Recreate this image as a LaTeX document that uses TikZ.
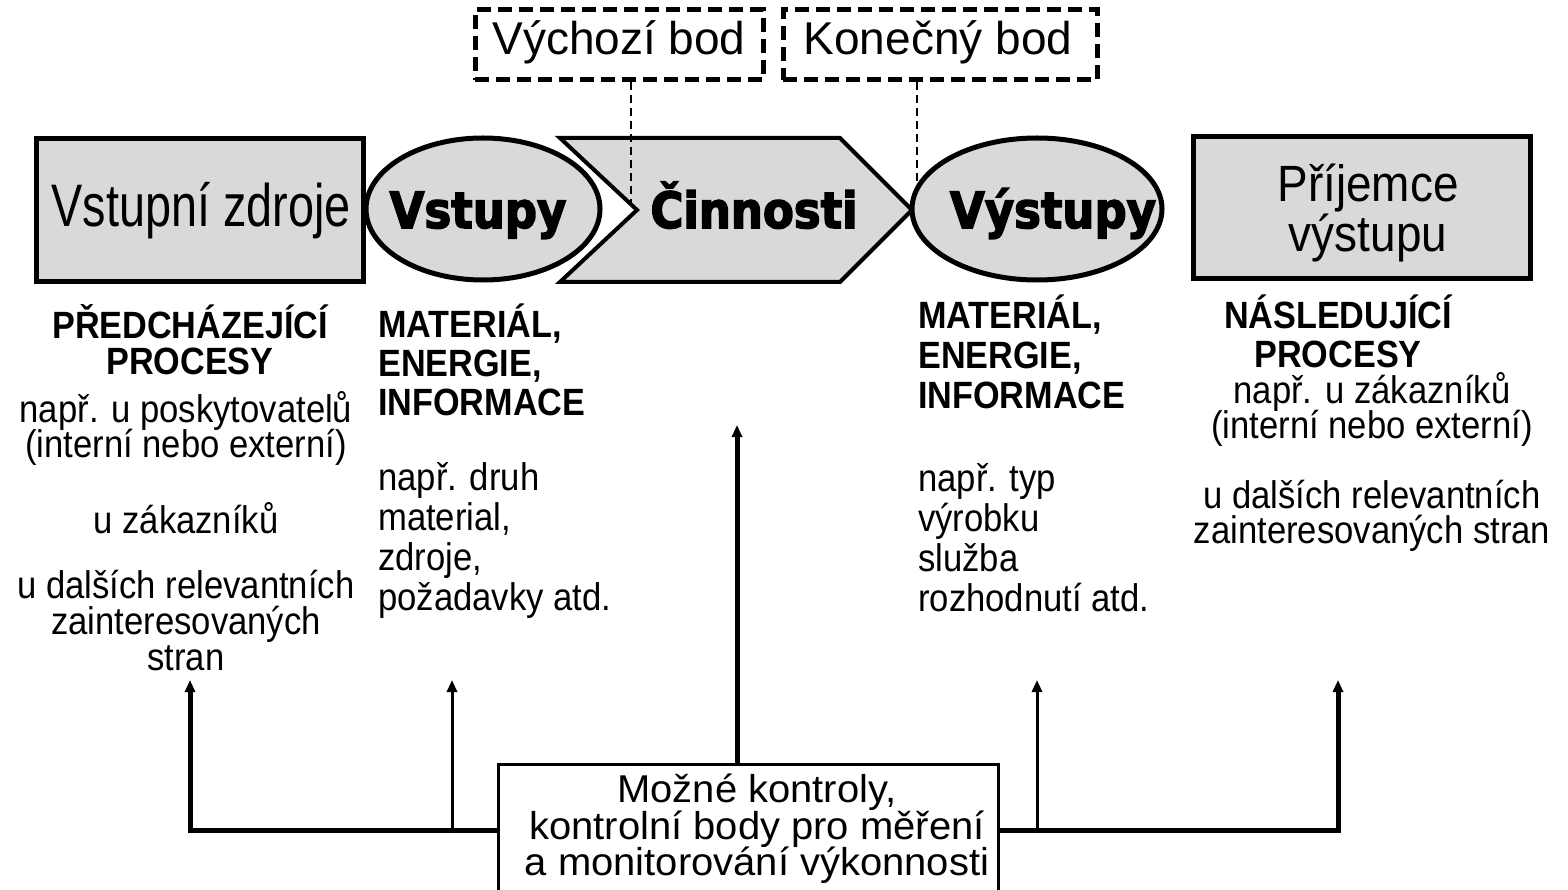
\documentclass[tikz,border=0pt]{standalone}
\usepackage{fontspec}
\setmainfont{Liberation Sans}
\newfontfamily\bigfont{Liberation Sans}[FakeStretch=0.78]
\newfontfamily\midfont{Liberation Sans}[FakeStretch=0.9]
\newfontfamily\widefont{Liberation Sans}[FakeStretch=1.03]
\newfontfamily\heavyfont{DejaVu Sans}[UprightFont=* Bold, FakeStretch=0.9, FakeBold=3]
\usetikzlibrary{arrows.meta,shapes.geometric}
\definecolor{boxgray}{RGB}{217,217,217}
\begin{document}
\begin{tikzpicture}[x=1pt,y=-1pt,
  every node/.append style={execute at begin node={\lineskiplimit=-100pt\relax}},
  gbox/.style={draw, line width=5pt, fill=boxgray, inner sep=0pt},
  body/.style={font=\midfont\fontsize{38.5}{35}\selectfont, inner sep=0pt, align=center},
  bodyl/.style={font=\midfont\fontsize{38.5}{40}\selectfont, inner sep=0pt, align=left, anchor=west},
  head/.style={font=\midfont\bfseries\fontsize{38}{37}\selectfont, inner sep=0pt, align=center},
  headl/.style={font=\midfont\bfseries\fontsize{38}{39}\selectfont, inner sep=0pt, align=left, anchor=west},
  heavy/.style={font=\heavyfont\fontsize{50}{50}\selectfont, inner sep=0pt, anchor=base},
  dbox/.style={draw, line width=5pt, dash pattern=on 14pt off 7pt, inner sep=0pt, minimum height=70pt},
  dlabel/.style={font=\fontsize{46}{50}\selectfont, inner sep=0pt, anchor=base},
  dline/.style={line width=2.5pt, dash pattern=on 8pt off 5pt},
  arr/.style={-{Triangle[length=12pt,width=10pt]}},
]
\useasboundingbox (0,0) rectangle (1568,890);
\clip (0,0) rectangle (1568,890);

% top dashed boxes
\node[dbox, minimum width=288pt] (vb) at (619,45) {};
\node[dlabel] (vbl) at (619,55) {Výchozí bod};
\node[dbox, minimum width=314pt] (kb) at (940,45) {};
\node[dlabel] (kbl) at (938,55) {Konečný bod};

% main row
\node[gbox, minimum width=327pt, minimum height=143pt] (src) at (199.5,210.5) {};
\node[font=\bigfont\fontsize{60}{60}\selectfont, inner sep=0pt, anchor=base] (srcl) at (201,227) {Vstupní zdroje};
\draw[line width=4pt, fill=boxgray, line join=miter]
  (560,138) -- (840,138) -- (912,210) -- (840,282) -- (560,282) -- (637,210) -- cycle;
\node[heavy] (act) at (754,228) {Činnosti};
\node[gbox, ellipse, minimum width=234pt, minimum height=142pt] (in) at (483,209) {};
\node[heavy] (inl) at (478,228) {Vstupy};
\node[gbox, ellipse, minimum width=250pt, minimum height=142pt] (out) at (1037,209) {};
\node[heavy] (outl) at (1053,228) {Výstupy};
\node[gbox, minimum width=337pt, minimum height=142pt] (rcv) at (1361.5,208) {};
\node[font=\midfont\fontsize{51}{50}\selectfont, inner sep=0pt, anchor=base] (rcvl) at (1368,202) {Příjemce};
\node[font=\midfont\fontsize{51}{50}\selectfont, inner sep=0pt, anchor=base] (rcvl2) at (1368,252) {výstupu};

% dashed pointers
\coordinate (vbp) at (631,205);
\coordinate (kbp) at (917,185);
\draw[dline] (vb.south -| vbp) -- (vbp);
\draw[dline] (kb.south -| kbp) -- (kbp);

% texts
\node[head, font=\midfont\bfseries\fontsize{38}{36}\selectfont] (t1) at (190,340) {PŘEDCHÁZEJÍCÍ\\PROCESY};
\node[body, font=\midfont\fontsize{38.5}{35}\selectfont] (t2) at (186,428) {např. u poskytovatelů\\(interní nebo externí)};
\node[body] (t3) at (186,518) {u zákazníků};
\node[body, font=\midfont\fontsize{38.5}{36}\selectfont] (t4) at (186,621) {u dalších relevantních\\zainteresovaných\\stran};

\node[headl] (t5) at (378,360) {MATERIÁL,\\ENERGIE,\\INFORMACE};
\node[bodyl] (t6) at (378,540) {např. druh\\material,\\zdroje,\\požadavky atd.};

\node[headl, font=\midfont\bfseries\fontsize{38}{40}\selectfont] (t7) at (918,352) {MATERIÁL,\\ENERGIE,\\INFORMACE};
\node[bodyl] (t8) at (918,538) {např. typ\\výrobku\\služba\\rozhodnutí atd.};

\node[head, font=\midfont\bfseries\fontsize{38}{39}\selectfont] (t9) at (1338,331) {NÁSLEDUJÍCÍ\\PROCESY};
\node[body] (t10) at (1372,409) {např. u zákazníků\\(interní nebo externí)};
\node[body] (t11) at (1372,516) {u dalších relevantních\\zainteresovaných stran};

% bottom box
\node[draw, line width=3pt, fill=white, minimum width=500pt, minimum height=135pt, inner sep=0pt] (ctl) at (748,832) {};
\node[font=\widefont\fontsize{38.8}{36.5}\selectfont, inner sep=0pt, align=center] (ctll) at (757,829)
  {Možné kontroly,\\kontrolní body pro měření\\a monitorování výkonnosti};

% connectors
\coordinate (hy) at (0,830);
\coordinate (c1) at (737,425);
\coordinate (l1) at (190,680);
\coordinate (l2) at (452,680);
\coordinate (r1) at (1037,680);
\coordinate (r2) at (1338,680);
\draw[arr, line width=5pt] (ctl.north -| c1) -- (c1);
\draw[arr, line width=5pt] (hy -| ctl.west) -| (l1);
\draw[arr, line width=3pt] (hy -| l2) -- (l2);
\draw[arr, line width=5pt] (hy -| ctl.east) -| (r2);
\draw[arr, line width=3pt] (hy -| r1) -- (r1);
\end{tikzpicture}
\end{document}
